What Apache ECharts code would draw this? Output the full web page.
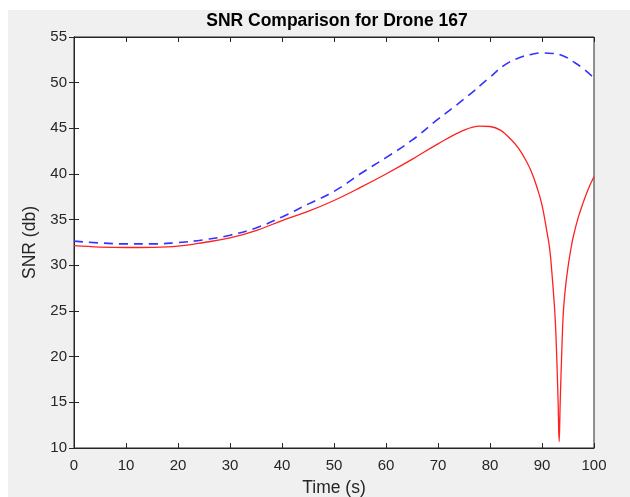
<!DOCTYPE html>
<html>
<head>
<meta charset="utf-8">
<script src="https://cdn.jsdelivr.net/npm/echarts@6/dist/echarts.min.js"></script>
<style>html,body{margin:0;padding:0;background:#fff;}#c{width:630px;height:497px;}</style>
</head>
<body>
<div id="c"></div>
<script>
const titleText = 'SNR Comparison for Drone 167';
const xName = 'Time (s)';
const yName = 'SNR (db)';
const xTicks = [0, 10, 20, 30, 40, 50, 60, 70, 80, 90, 100];
const yTicks = [10, 15, 20, 25, 30, 35, 40, 45, 50, 55];

const blueTime = [0, 5, 10, 15, 20, 25, 30, 35, 40, 45, 50, 55, 60, 65, 70, 75, 80, 83, 86, 88, 90, 92, 94, 96, 98, 100];
const blueSnr  = [32.65, 32.45, 32.35, 32.35, 32.5, 32.8, 33.3, 34.1, 35.3, 36.7, 38.1, 40.0, 41.8, 43.7, 46.0, 48.2, 50.6, 52.0, 52.8, 53.1, 53.25, 53.2, 52.95, 52.3, 51.5, 50.5];

const redTime = [0, 5, 10, 15, 20, 25, 30, 35, 40, 45, 50, 55, 60, 65, 70, 75, 78, 80, 82, 84, 85.5, 87, 88, 89, 90, 91, 91.5, 92, 92.5, 92.8, 93.1, 93.3, 93.5, 93.8, 94.1, 94.5, 95, 95.5, 96, 97, 98, 99, 100];
const redSnr  = [32.15, 32.0, 31.95, 31.97, 32.1, 32.5, 33.0, 33.8, 34.9, 35.9, 37.1, 38.5, 40.0, 41.6, 43.3, 44.8, 45.25, 45.2, 44.8, 43.8, 42.8, 41.4, 40.2, 38.6, 36.6, 33.5, 31.7, 28.5, 24.5, 20.5, 15.0, 10.7, 15.0, 20.5, 24.8, 27.5, 29.8, 31.6, 33.1, 35.3, 37.0, 38.5, 39.7];

const pair = (xs, ys) => xs.map((x, i) => [x, ys[i]]);
const axisColor = '#262626';
const fam = 'Liberation Sans, Arial, sans-serif';
const labelStyle = { color: '#262626', fontSize: 15, fontFamily: fam };

const chart = echarts.init(document.getElementById('c'), null, { renderer: 'canvas' });
chart.setOption({
  animation: false,
  backgroundColor: '#ffffff',
  graphic: [
    { type: 'rect', z: -10, silent: true, shape: { x: 8, y: 10, width: 630, height: 497 }, style: { fill: '#f0f0f0' } }
  ],
  title: {
    text: titleText,
    left: 332, top: 7, textAlign: 'center',
    textStyle: { fontSize: 17.5, fontWeight: 'bold', color: '#000', fontFamily: fam }
  },
  grid: { left: 74, right: 36, top: 37, bottom: 49, containLabel: false, outerBoundsMode: 'none', show: true, backgroundColor: '#ffffff', borderColor: axisColor, borderWidth: 1 },
  xAxis: [
    {
      type: 'value', min: xTicks[0], max: xTicks[xTicks.length - 1], interval: 10,
      name: xName, nameLocation: 'middle', nameGap: 31,
      nameTextStyle: { color: '#262626', fontSize: 17.5, fontFamily: fam },
      axisLine: { show: true, lineStyle: { color: axisColor } },
      axisTick: { show: true, inside: true, length: 5, lineStyle: { color: axisColor } },
      axisLabel: Object.assign({ margin: 10 }, labelStyle),
      splitLine: { show: false }
    },
    {
      type: 'value', position: 'top', min: xTicks[0], max: xTicks[xTicks.length - 1], interval: 10,
      axisLine: { show: true, lineStyle: { color: axisColor } },
      axisTick: { show: true, inside: true, length: 5, lineStyle: { color: axisColor } },
      axisLabel: { show: false }, splitLine: { show: false }
    }
  ],
  yAxis: [
    {
      type: 'value', min: yTicks[0], max: yTicks[yTicks.length - 1], interval: 5,
      name: yName, nameLocation: 'middle', nameGap: 33,
      nameTextStyle: { color: '#262626', fontSize: 17.5, fontFamily: fam },
      axisLine: { show: true, lineStyle: { color: axisColor } },
      axisTick: { show: true, inside: true, length: 5, lineStyle: { color: axisColor } },
      axisLabel: Object.assign({ margin: 7 }, labelStyle),
      splitLine: { show: false }
    },
    {
      type: 'value', position: 'right', min: yTicks[0], max: yTicks[yTicks.length - 1], interval: 5,
      axisLine: { show: true, lineStyle: { color: axisColor } },
      axisTick: { show: true, inside: true, length: 5, lineStyle: { color: axisColor } },
      axisLabel: { show: false }, splitLine: { show: false }
    }
  ],
  series: [
    {
      type: 'line', data: pair(blueTime, blueSnr), showSymbol: false,
      smooth: 0.5,
      lineStyle: { color: '#3333ff', width: 1.6, type: [9, 6] }
    },
    {
      type: 'line', data: pair(redTime, redSnr), showSymbol: false,
      smooth: 0.4,
      lineStyle: { color: '#ff2020', width: 1.3 }
    }
  ]
});
</script>
</body>
</html>
